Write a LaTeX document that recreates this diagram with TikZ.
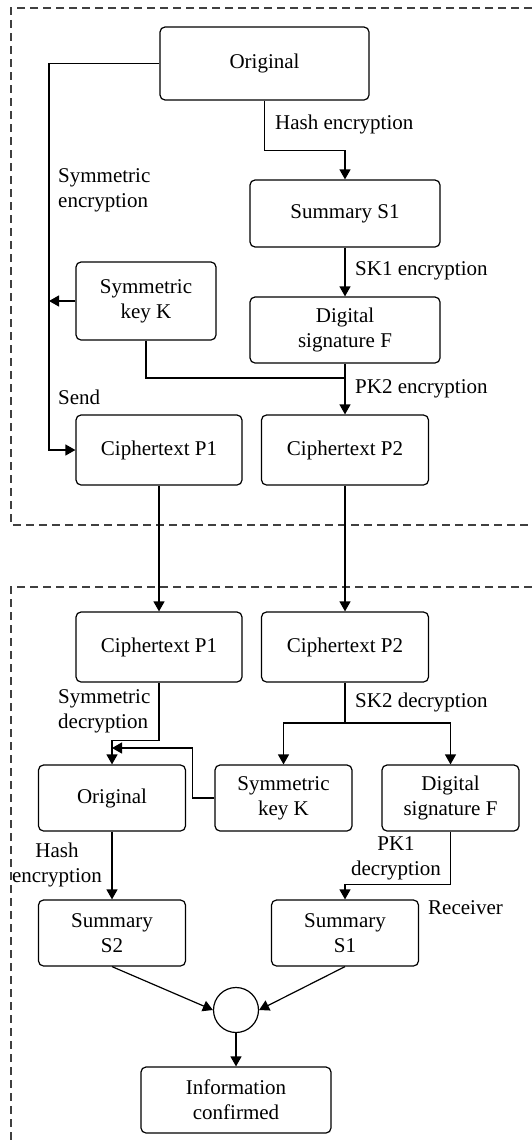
\documentclass[tikz,border=0pt]{standalone}
\usepackage{fontspec}
\setmainfont{Liberation Serif}
\usetikzlibrary{arrows.meta}
\begin{document}
\begin{tikzpicture}[x=1pt,y=-1pt,
  every node/.style={font=\fontsize{21}{25}\selectfont},
  box/.style={draw, line width=1.2pt, rounded corners=5pt, align=center, inner sep=0pt},
  lbl/.style={inner sep=0pt, anchor=west, align=left},
  arr/.style={-{Triangle[length=10pt,width=11pt]}},
  conn/.style={line width=1.2pt},
  frame/.style={draw=black!75, line width=1.2pt, dash pattern=on 8pt off 5pt}]
\useasboundingbox (0,0) rectangle (532,1143);
% frames
\draw[frame] (532,8) -- (11,8) -- (11,525) -- (532,525);
\draw[frame] (532,587) -- (11,587) -- (11,1143);
% sender nodes
\node[box, minimum width=209pt, minimum height=73pt] (orig) at (264.5,63.5) {Original};
\node[box, minimum width=190pt, minimum height=67pt] (s1) at (345,213.5) {Summary S1};
\node[box, minimum width=140pt, minimum height=78pt] (k) at (146,301) {Symmetric\\key K};
\node[box, minimum width=190pt, minimum height=66pt] (f) at (345,330) {Digital\\signature F};
\node[box, minimum width=166pt, minimum height=70pt] (p1) at (159,450) {Ciphertext P1};
\node[box, minimum width=167pt, minimum height=70pt] (p2) at (345,450) {Ciphertext P2};
% receiver nodes
\node[box, minimum width=166pt, minimum height=70pt] (p1b) at (159,647) {Ciphertext P1};
\node[box, minimum width=167pt, minimum height=70pt] (p2b) at (345,647) {Ciphertext P2};
\node[box, minimum width=147pt, minimum height=66pt] (orig2) at (112,798) {Original};
\node[box, minimum width=137pt, minimum height=66pt] (k2) at (283.5,798) {Symmetric\\key K};
\node[box, minimum width=137pt, minimum height=66pt] (f2) at (450.5,798) {Digital\\signature F};
\node[box, minimum width=147pt, minimum height=66pt] (s2) at (112,933) {Summary\\S2};
\node[box, minimum width=147pt, minimum height=66pt] (s1b) at (345,933) {Summary\\S1};
\node[draw, line width=1.2pt, circle, minimum size=45pt, inner sep=0pt] (c) at (236,1010) {};
\node[box, minimum width=190pt, minimum height=66pt] (info) at (236,1100) {Information\\confirmed};
% coordinates
\coordinate (L) at (49,0);
\coordinate (J) at (345,378);
\coordinate (M) at (112,748);
\coordinate (S) at (345,723);
% sender connectors
\draw[conn, arr] (orig.west) -- (orig.west -| L) |- (p1.west);
\draw[conn, arr] (k.west) -- (k.west -| L);
\draw[conn, arr] (orig.south) -- ++(0,50) -| (s1.north);
\draw[conn, arr] (s1.south) -- (f.north);
\draw[conn, arr] (f.south) -- (p2.north);
\draw[conn] (k.south) |- (J);
% transfer
\draw[conn, arr] (p1.south) -- (p1b.north);
\draw[conn, arr] (p2.south) -- (p2b.north);
% receiver connectors
\draw[conn, arr] (p1b.south) -- ++(0,58) -| (orig2.north);
\draw[conn, arr] (k2.west) -- ++(-22,0) |- (M);
\draw[conn] (p2b.south) -- (S);
\draw[conn, arr] (S) -| (k2.north);
\draw[conn, arr] (S) -| (f2.north);
\draw[conn, arr] (orig2.south) -- (s2.north);
\draw[conn, arr] (f2.south) -- ++(0,53) -| (s1b.north);
\draw[conn, arr] (s2.south) -- (c.west);
\draw[conn, arr] (s1b.south) -- (c.east);
\draw[conn, arr] (c.south) -- (info.north);
% labels
\node[lbl] (l1) at (58,190) {Symmetric\\encryption};
\node[lbl] (l2) at (58,397) {Send};
\node[lbl] (l3) at (275,124) {Hash encryption};
\node[lbl] (l4) at (355,271) {SK1 encryption};
\node[lbl] (l5) at (355,389) {PK2 encryption};
\node[lbl] (l6) at (58,711) {Symmetric\\decryption};
\node[lbl] (l7) at (355,702) {SK2 decryption};
\node[inner sep=0pt, align=center] (l8) at (57,865) {Hash\\encryption};
\node[inner sep=0pt, align=center] (l9) at (396,858) {PK1\\decryption};
\node[lbl] (l10) at (428,908) {Receiver};
\end{tikzpicture}
\end{document}
